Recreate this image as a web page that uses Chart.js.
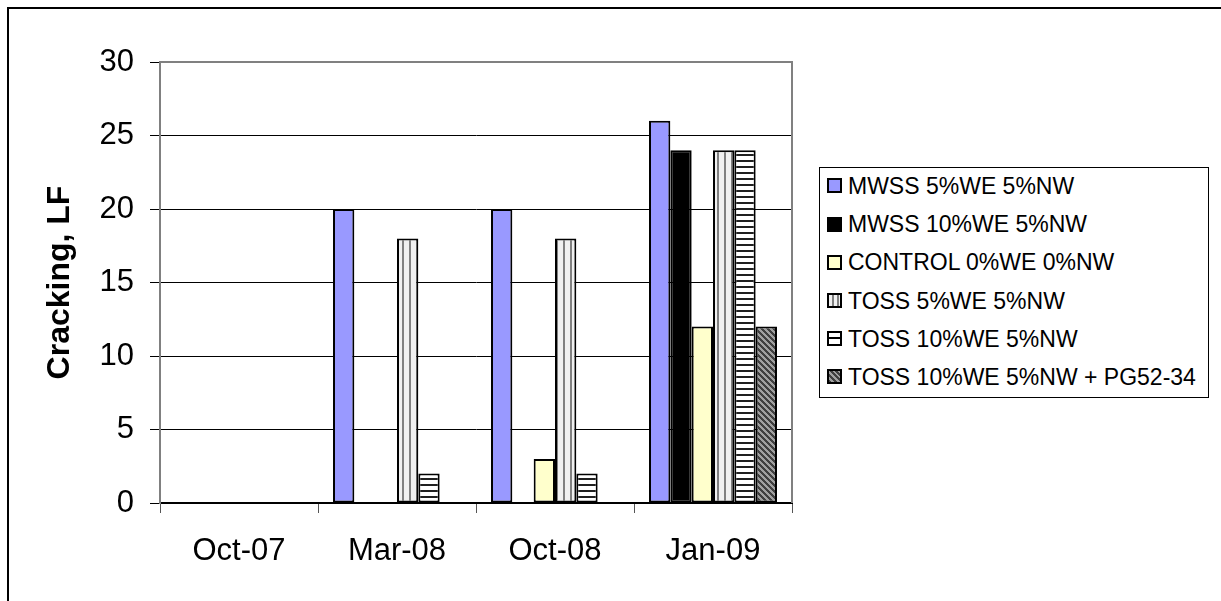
<!DOCTYPE html>
<html>
<head>
<meta charset="utf-8">
<script src="https://cdn.jsdelivr.net/npm/chart.js"></script>
<style>
  body { margin: 0; background: #fff; }
  #quadro { position: relative; width: 1221px; height: 601px; }
  #legenda {
    position: absolute; left: 819px; top: 167px; width: 390px; height: 231px;
    border: 1px solid #000; box-sizing: border-box; background: #fff;
    font-family: "Liberation Sans", Arial, sans-serif; font-size: 23px; color: #000;
  }
  .item { position: absolute; left: 7px; height: 26px; line-height: 26px; white-space: nowrap; }
  .caixa {
    display: inline-block; width: 15px; height: 15px; box-sizing: border-box;
    border: 2px solid #000; vertical-align: middle; margin-right: 6px;
    position: relative; top: -2px;
  }
</style>
</head>
<body>
<div id="quadro">
  <canvas id="grafico" width="1221" height="601"></canvas>
  <div id="legenda"></div>
</div>
<script>
// Dados do gráfico
const categorias = ["Oct-07", "Mar-08", "Oct-08", "Jan-09"];
const nomesSeries = [
  "MWSS 5%WE 5%NW",
  "MWSS 10%WE 5%NW",
  "CONTROL 0%WE 0%NW",
  "TOSS 5%WE 5%NW",
  "TOSS 10%WE 5%NW",
  "TOSS 10%WE 5%NW + PG52-34",
];
const mwss5 = [0, 20, 20, 26];
const mwss10 = [0, 0, 0, 24];
const controle = [0, 0, 3, 12];
const toss5 = [0, 18, 18, 24];
const toss10 = [0, 2, 2, 24];
const toss10pg = [0, 0, 0, 12];

const fonte = '"Liberation Sans", Arial, sans-serif';

// Padrões de preenchimento
function padrao(tamanho, desenhar) {
  const cv = document.createElement("canvas");
  cv.width = tamanho;
  cv.height = tamanho;
  const c = cv.getContext("2d");
  desenhar(c);
  return c.createPattern(cv, "repeat");
}

const listrasVerticais = padrao(7, (c) => {
  c.fillStyle = "#f0f0f0";
  c.fillRect(0, 0, 7, 7);
  c.fillStyle = "#808080";
  c.fillRect(3, 0, 2, 7);
});

const listrasHorizontais = padrao(6, (c) => {
  c.fillStyle = "#ffffff";
  c.fillRect(0, 0, 6, 6);
  c.fillStyle = "#202020";
  c.fillRect(0, 4, 6, 2);
});

const listrasDiagonais = padrao(6, (c) => {
  for (let x = 0; x < 6; x++) {
    for (let y = 0; y < 6; y++) {
      c.fillStyle = (x - y + 6) % 6 < 3 ? "#404040" : "#a0a0a0";
      c.fillRect(x, y, 1, 1);
    }
  }
});

const series = [mwss5, mwss10, controle, toss5, toss10, toss10pg];
const preenchimentos = ["#9999ff", "#000000", "#ffffcc", listrasVerticais, listrasHorizontais, listrasDiagonais];
const amostrasLegenda = [
  "#9999ff",
  "#000000",
  "#ffffcc",
  "repeating-linear-gradient(90deg, #f0f0f0 0 3px, #808080 3px 5px)",
  "linear-gradient(#fff 0 4px, #000 4px 6px, #fff 6px)",
  "repeating-linear-gradient(45deg, #404040 0 2px, #a0a0a0 2px 4px)",
];

// Moldura externa e borda cinza da área do gráfico
const moldura = {
  id: "moldura",
  beforeDraw(chart) {
    const c = chart.ctx;
    c.save();
    c.strokeStyle = "#000";
    c.lineWidth = 2;
    c.beginPath();
    c.moveTo(8, chart.height);
    c.lineTo(8, 8);
    c.lineTo(chart.width, 8);
    c.stroke();
    c.restore();
  },
  afterDraw(chart) {
    const a = chart.chartArea;
    const c = chart.ctx;
    c.save();
    c.strokeStyle = "#808080";
    c.lineWidth = 2;
    c.beginPath();
    c.moveTo(a.left, a.top);
    c.lineTo(a.right, a.top);
    c.lineTo(a.right, a.bottom);
    c.stroke();
    c.restore();
  },
};

const config = {
  type: "bar",
  data: {
    labels: categorias,
    datasets: series.map((valores, i) => ({
      label: nomesSeries[i],
      data: valores,
      backgroundColor: preenchimentos[i],
      borderColor: "#000000",
      borderWidth: 2,
      borderSkipped: false,
      categoryPercentage: 0.81,
      barPercentage: 1,
    })),
  },
  options: {
    responsive: false,
    animation: false,
    layout: { padding: { left: 0, right: 429, top: 62, bottom: 0 } },
    plugins: {
      legend: { display: false },
      tooltip: { enabled: false },
    },
    scales: {
      x: {
        grid: { drawOnChartArea: false, tickLength: 10, color: "#555", offset: true },
        border: { color: "#000", width: 2 },
        ticks: { color: "#000", font: { family: fonte, size: 31 }, padding: 20, maxRotation: 0 },
        afterFit: (s) => { s.height = 98; },
      },
      y: {
        min: 0,
        max: 30,
        ticks: { stepSize: 5, color: "#000", font: { family: fonte, size: 31 }, padding: 16 },
        grid: { color: "#000", lineWidth: 1, tickLength: 10, tickColor: "#000" },
        border: { color: "#808080", width: 2 },
        title: {
          display: true,
          text: "Cracking, LF",
          color: "#000",
          font: { family: fonte, size: 32, weight: "bold" },
          padding: { top: 41, bottom: 0 },
        },
        afterFit: (s) => { s.width = 160; },
      },
    },
  },
  plugins: [moldura],
};

const ctx = document.getElementById("grafico").getContext("2d");
const grafico = new Chart(ctx, config);

// Monta a legenda
const legenda = document.getElementById("legenda");
nomesSeries.forEach((nome, i) => {
  const item = document.createElement("div");
  item.className = "item";
  item.style.top = (19 + i * 38.2 - 13 - 1) + "px";
  item.innerHTML = `<span class="caixa" style="background:${amostrasLegenda[i]}"></span>${nome}`;
  legenda.appendChild(item);
});
</script>
</body>
</html>
